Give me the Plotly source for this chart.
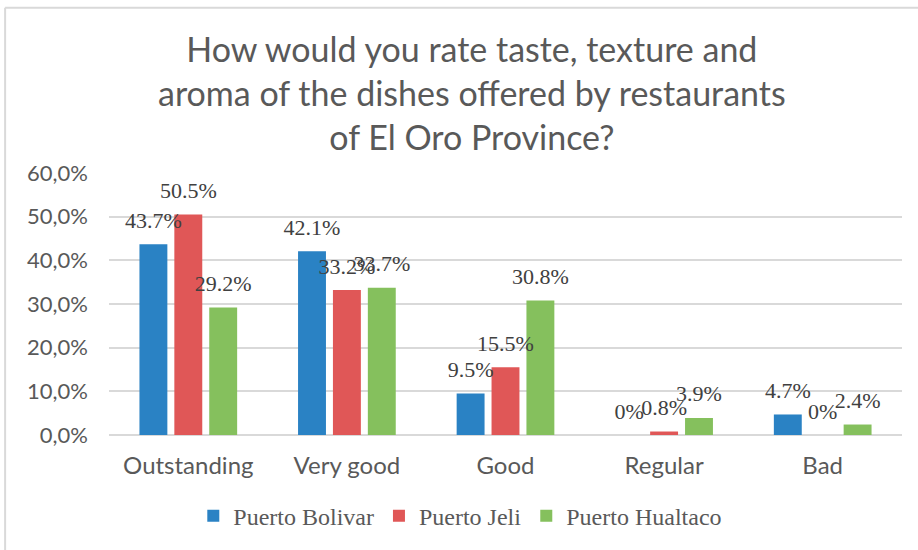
import plotly.graph_objects as go

categories = ["Outstanding", "Very good", "Good", "Regular", "Bad"]
series_names = ["Puerto Bolivar", "Puerto Jeli", "Puerto Hualtaco"]
puerto_bolivar = [43.7, 42.1, 9.5, 0, 4.7]
puerto_jeli = [50.5, 33.2, 15.5, 0.8, 0]
puerto_hualtaco = [29.2, 33.7, 30.8, 3.9, 2.4]
y_ticks = [0, 10, 20, 30, 40, 50, 60]
y_tick_labels = ["0,0%", "10,0%", "20,0%", "30,0%", "40,0%", "50,0%", "60,0%"]

colors = ["#2A82C4", "#E05757", "#85C05D"]
series_values = [puerto_bolivar, puerto_jeli, puerto_hualtaco]

fig = go.Figure()

for name, vals, col in zip(series_names, series_values, colors):
    fig.add_trace(go.Bar(
        x=categories, y=vals, name=name, marker=dict(color=col, line=dict(width=0)),
        offsetgroup=name, hoverinfo="skip",
    ))

# value labels, grouped the same way as the bars and lifted above them
for name, vals in zip(series_names, series_values):
    fig.add_trace(go.Scatter(
        x=categories, y=vals, mode="markers+text", offsetgroup=name,
        text=[f"{v:g}%" for v in vals], textposition="top center",
        textfont=dict(family="Liberation Serif", size=22, color="#404040"),
        marker=dict(size=16, opacity=0), showlegend=False, hoverinfo="skip",
        cliponaxis=False,
    ))

# chart frame
frame = dict(type="line", xref="paper", yref="paper", line=dict(color="#D9D9D9", width=2))
fig.add_shape(**frame, x0=-0.131, x1=1.03, y0=1.631, y1=1.631)
fig.add_shape(**frame, x0=-0.131, x1=-0.131, y0=1.631, y1=-0.45)

# chart title
fig.add_annotation(
    text="How would you rate taste, texture and<br>aroma of the dishes offered by restaurants<br>of El Oro Province?",
    xref="paper", yref="paper", x=0.458, y=1.308, xanchor="center", yanchor="middle",
    showarrow=False, align="center",
    font=dict(family="Lato", size=34, color="#595959"),
)

fig.update_layout(
    width=918, height=550,
    margin=dict(l=109, r=16, t=173, b=114),
    paper_bgcolor="white", plot_bgcolor="white",
    barmode="group", bargap=0.34, bargroupgap=0.2,
    scattermode="group", scattergap=0.34,
    xaxis=dict(
        tickfont=dict(family="Lato", size=24, color="#595959"),
        showgrid=False, showline=False, ticks="", ticklabelstandoff=14,
    ),
    yaxis=dict(
        range=[0, 60], tickvals=y_ticks, ticktext=y_tick_labels,
        tickfont=dict(family="Lato", size=22, color="#595959"),
        showgrid=True, gridcolor="#D9D9D9", gridwidth=1.5,
        zeroline=True, zerolinecolor="#D9D9D9", zerolinewidth=1.5,
        showline=False, ticks="", ticklabelstandoff=20,
    ),
    legend=dict(
        orientation="h", x=0.443, xanchor="center", y=-0.305, yanchor="middle",
        font=dict(family="Liberation Serif", size=24, color="#595959"),
        itemwidth=30, traceorder="normal",
    ),
    font=dict(family="Lato"),
)

fig.write_html("out.html")
